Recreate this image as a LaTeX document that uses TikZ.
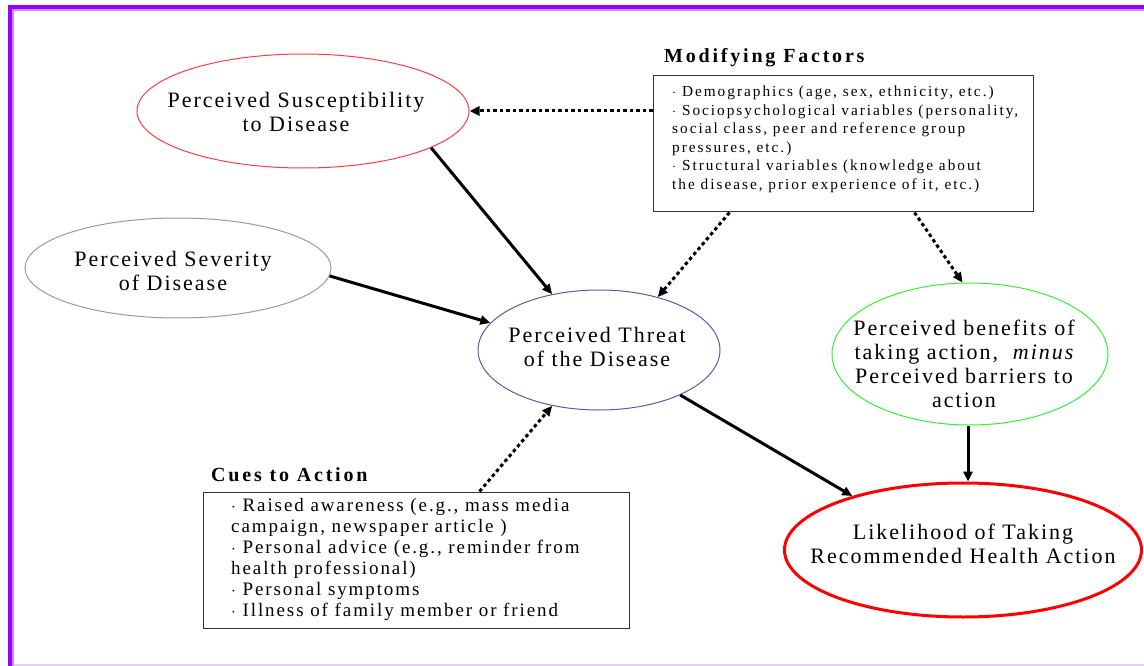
\documentclass[tikz,border=0pt]{standalone}
\usepackage{fontspec}
\setmainfont{Liberation Serif}
\newfontfamily\trk{Liberation Serif}[LetterSpace=9, ItalicFont={Liberation Serif Italic}, BoldFont={Liberation Serif Bold}]
\newfontfamily\trkit{Liberation Serif Italic}[LetterSpace=9]
\newfontfamily\trkbox{Liberation Serif}[LetterSpace=10, ItalicFont={Liberation Serif Italic}, BoldFont={Liberation Serif Bold}]
\newfontfamily\trksmall{Liberation Serif}[LetterSpace=13]
\newfontfamily\trktitle{Liberation Serif Bold}[LetterSpace=14]
\usetikzlibrary{shapes.geometric,arrows.meta}
\definecolor{framedark}{HTML}{9A00FF}
\definecolor{framelight}{HTML}{C890FF}
\definecolor{framelav}{HTML}{E2D2F2}
\definecolor{susred}{HTML}{FF3B3B}
\definecolor{sevgray}{HTML}{9A9A9A}
\definecolor{thrblue}{HTML}{5A5AB0}
\definecolor{bengreen}{HTML}{33F033}
\definecolor{likred}{HTML}{FF0000}
\tikzset{
  ell/.style={ellipse, inner sep=0pt},
  eltext/.style={align=center, inner sep=0pt, font=\trk\fontsize{22}{24}\selectfont},
  boxshape/.style={draw=black!80, line width=1pt, rectangle, inner sep=0pt},
  boxtitle/.style={anchor=west, inner sep=0pt, font=\trktitle\fontsize{20}{22}\selectfont},
  solidarr/.style={line width=3pt, -{Triangle[length=10pt,width=9pt]}},
  dotarr/.style={line width=3pt, dash pattern=on 3.5pt off 3pt, -{Triangle[length=10pt,width=9pt]}}
}
\begin{document}
\begin{tikzpicture}[x=1pt,y=-1pt]
\useasboundingbox (0,0) rectangle (1144,666);
% frame
\draw[framelav, line width=1.5pt] (14,665) -- (1144,665);
\draw[framelight, line width=2pt] (13,666) -- (13,10) -- (1144,10);
\draw[framedark, line width=4pt] (10,666) -- (10,7) -- (1144,7);
% ellipses
\node[ell, draw=susred, line width=1pt, minimum width=332pt, minimum height=114pt] (sus) at (303,111) {};
\node[eltext] (sust) at (296,111.5) {Perceived Susceptibility\\to Disease};
\node[ell, draw=sevgray, line width=1pt, minimum width=306pt, minimum height=100pt] (sev) at (178,268) {};
\node[eltext] (sevt) at (173,271) {Perceived Severity\\of Disease};
\node[ell, draw=thrblue, line width=1pt, minimum width=242pt, minimum height=120pt] (thr) at (599,350) {};
\node[eltext] (thrt) at (597,347) {Perceived Threat\\of the Disease};
\node[ell, draw=bengreen, line width=1pt, minimum width=276pt, minimum height=142pt] (ben) at (970,354) {};
\node[eltext, font=\trk\fontsize{22}{23.8}\selectfont] (bent) at (964,364) {Perceived benefits of\\taking action,\ \ {\trkit minus}\\Perceived barriers to\\action};
\node[ell, draw=likred, line width=3pt, minimum width=357pt, minimum height=134pt] (lik) at (963,550) {};
\node[eltext] (likt) at (963,544) {Likelihood of Taking\\Recommended Health Action};
% modifying factors
\node[boxtitle] (mft) at (664,58) {Modifying Factors};
\node[boxshape, minimum width=380pt, minimum height=136pt] (mf) at (843,144) {};
\node[anchor=north west, inner sep=0pt, align=left, font=\trksmall\fontsize{15.3}{18.5}\selectfont] (mftx) at (672,86)
  {$\cdot$ Demographics (age, sex, ethnicity, etc.)\\
   $\cdot$ Sociopsychological variables (personality,\\
   social class, peer and reference group\\
   pressures, etc.)\\
   $\cdot$ Structural variables (knowledge about\\
   the disease, prior experience of it, etc.)};
% cues to action
\node[boxtitle] (cut) at (211,475) {Cues to Action};
\node[boxshape, minimum width=426pt, minimum height=136pt] (cu) at (416,560) {};
\node[anchor=north west, inner sep=0pt, align=left, font=\trkbox\fontsize{19}{21}\selectfont] (cutx) at (231,498)
  {$\cdot$ Raised awareness (e.g., mass media\\
   campaign, newspaper article )\\
   $\cdot$ Personal advice (e.g., reminder from\\
   health professional)\\
   $\cdot$ Personal symptoms\\
   $\cdot$ Illness of family member or friend};
% connectors
\draw[dotarr] ([yshift=33pt]mf.west) -- (sus.east);
\draw[solidarr] (sus.-16.7) -- (thr.130.4);
\draw[solidarr] (sev.-3.3) -- (thr.166.8);
\draw[dotarr] ([xshift=77pt]mf.south west) -- (thr.42.9);
\draw[dotarr] ([xshift=262pt]mf.south west) -- (ben.96.4);
\draw[dotarr] ([xshift=277pt]cu.north west) -- (thr.-130.4);
\draw[solidarr] (thr.-29.2) -- (lik.154.8);
\draw[solidarr] ([xshift=-2pt]ben.south) -- ([xshift=5pt]lik.north);
\end{tikzpicture}
\end{document}
